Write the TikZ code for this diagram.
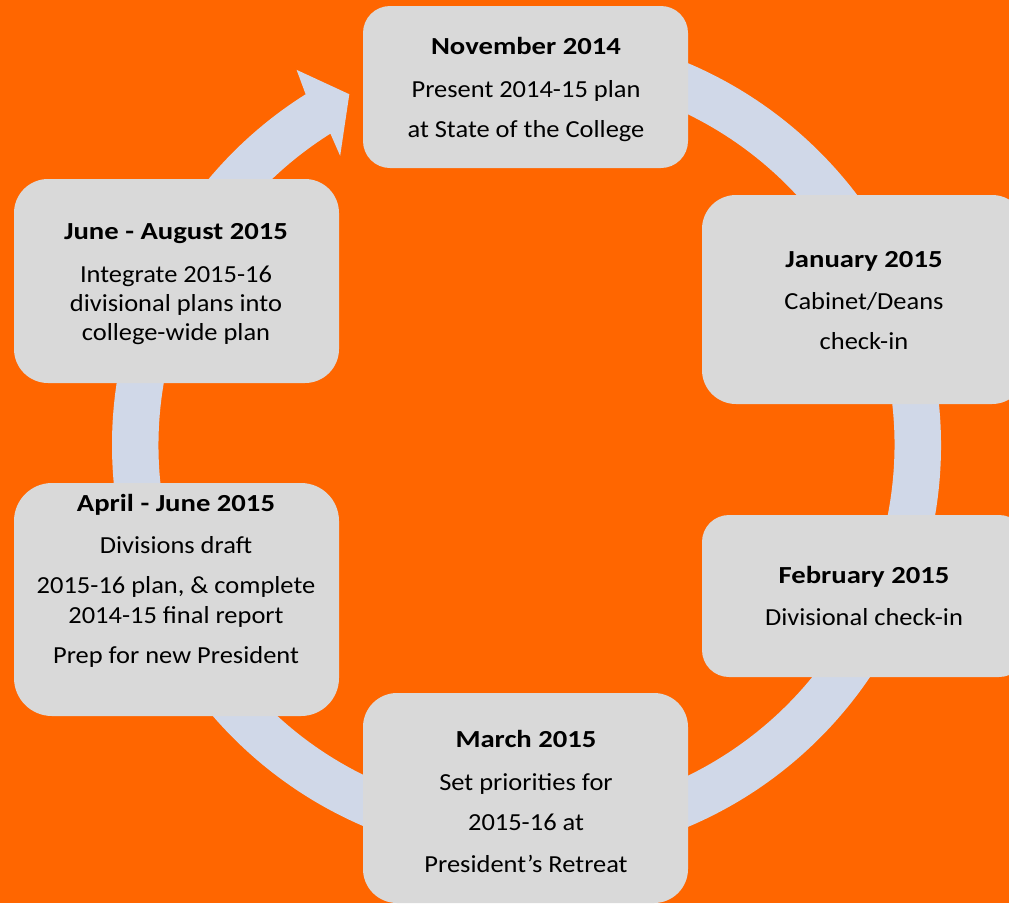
\documentclass[tikz,border=0pt]{standalone}
\usepackage{fontspec}
\setmainfont{Carlito}[FakeStretch=1.08, BoldFeatures={FakeStretch=1.17}]
\usetikzlibrary{calc}
\definecolor{bgorange}{HTML}{FF6600}
\definecolor{ringblue}{HTML}{D0D8E8}
\definecolor{boxgray}{HTML}{D9D9D9}
\tikzset{
  stagebox/.style={fill=boxgray, draw=none, inner sep=0pt},
  txt/.style={anchor=base, inner sep=0pt, font=\fontsize{24.5}{29.5}\selectfont},
  ttl/.style={anchor=base, inner sep=0pt, font=\fontsize{24.5}{29.5}\selectfont\bfseries},
  ring/.style={fill=ringblue, draw=none}
}
\begin{document}
\begin{tikzpicture}[x=1pt, y=-1pt]
\useasboundingbox (0,0) rectangle (1009,903);
\clip (0,0) rectangle (1009,903);
\fill[bgorange] (0,0) rectangle (1009,903);
% circular arrow
\coordinate (c) at (526.5,445);
\fill[ring] ($(c)+(-95:414.5)$) arc[start angle=-95, end angle=237.8, radius=414.5]
  -- ($(c)+(238.5:440)$) -- ($(c)+(243.2:393)$) -- ($(c)+(237.2:344)$)
  -- ($(c)+(237.8:368)$) arc[start angle=237.8, end angle=-95, radius=368] -- cycle;
% boxes
\node[stagebox, minimum width=325pt, minimum height=162pt, rounded corners=27pt] (nov) at (525.5,87) {};
\node[stagebox, minimum width=324pt, minimum height=209pt, rounded corners=34pt] (jan) at (864,299.5) {};
\node[stagebox, minimum width=324pt, minimum height=162pt, rounded corners=27pt] (feb) at (864,596) {};
\node[stagebox, minimum width=325pt, minimum height=210pt, rounded corners=34pt] (mar) at (525.5,798) {};
\node[stagebox, minimum width=325pt, minimum height=233pt, rounded corners=38pt] (apr) at (176.5,599.5) {};
\node[stagebox, minimum width=325pt, minimum height=204pt, rounded corners=34pt] (jun) at (176.5,281) {};
% texts
\node[ttl] (novt) at (526,54) {November 2014};
\node[txt] (nov1) at (526,97) {Present 2014-15 plan};
\node[txt] (nov2) at (526,137) {at State of the College};
\node[ttl] (jant) at (864,267) {January 2015};
\node[txt] (jan1) at (864,309) {Cabinet/Deans};
\node[txt] (jan2) at (864,349) {check-in};
\node[ttl] (febt) at (864,583) {February 2015};
\node[txt] (feb1) at (864,625) {Divisional check-in};
\node[ttl] (mart) at (526,747) {March 2015};
\node[txt] (mar1) at (526,790) {Set priorities for};
\node[txt] (mar2) at (526,830) {2015-16 at};
\node[txt] (mar3) at (526,872) {President’s Retreat};
\node[ttl] (aprt) at (176,511) {April - June 2015};
\node[txt] (apr1) at (176,553) {Divisions draft};
\node[txt] (apr2) at (176,593) {2015-16 plan, \& complete};
\node[txt] (apr3) at (176,623) {2014-15 final report};
\node[txt] (apr4) at (176,663) {Prep for new President};
\node[ttl] (junt) at (176,239) {June - August 2015};
\node[txt] (jun1) at (176,282) {Integrate 2015-16};
\node[txt] (jun2) at (176,311) {divisional plans into};
\node[txt] (jun3) at (176,340) {college-wide plan};
\end{tikzpicture}
\end{document}
